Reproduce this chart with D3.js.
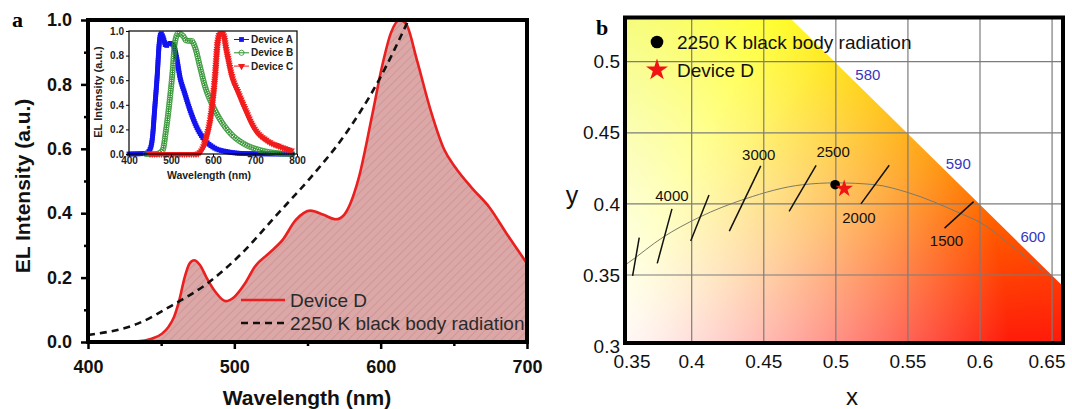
<!DOCTYPE html>
<html>
<head>
<meta charset="utf-8">
<script src="https://cdn.jsdelivr.net/npm/d3@7"></script>
<style>
  body { margin: 0; background: #fff; }
  svg { display: block; font-family: "Liberation Sans", Arial, sans-serif; }
</style>
</head>
<body>
<svg id="fig" width="1072" height="409"></svg>
<script>
// ---------- panel a: EL spectra ----------
const devDWl  = [400, 434, 443.5, 450.6, 455, 458.8, 462.4, 466, 469.4, 472.5, 476.5, 481, 487, 494, 500, 507, 514, 523.5, 533, 542, 552, 561, 569.4, 575, 584.7, 594, 601, 607, 613, 617.6, 624.7, 634, 643.5, 650.6, 662.4, 674, 686, 700];
const devDInt = [0, 0.002, 0.01, 0.026, 0.047, 0.078, 0.13, 0.2, 0.244, 0.254, 0.239, 0.2, 0.156, 0.127, 0.14, 0.18, 0.234, 0.275, 0.317, 0.379, 0.408, 0.395, 0.381, 0.395, 0.504, 0.7, 0.857, 0.96, 1.0, 0.986, 0.877, 0.722, 0.597, 0.545, 0.478, 0.42, 0.337, 0.244];

const bbWl  = [400, 434, 457.6, 481, 505, 528, 552, 575, 599, 619];
const bbInt = [0.022, 0.057, 0.114, 0.18, 0.275, 0.39, 0.51, 0.64, 0.815, 1.0];

const aXTicks = [400, 500, 600, 700];
const aXMinor = [450, 550, 650];
const aYTicks = [0, 0.2, 0.4, 0.6, 0.8, 1.0];
const aYMinor = [0.1, 0.3, 0.5, 0.7, 0.9];
const aLegend = ["Device D", "2250 K black body radiation"];

// inset: devices A, B, C
const devAWl  = [400, 441, 449, 456, 461, 467, 472, 476, 481, 488, 496, 505, 513, 521, 533, 545, 561, 577, 601, 633, 680, 790];
const devAInt = [0, 0.005, 0.03, 0.14, 0.36, 0.63, 0.9, 0.98, 0.95, 0.88, 0.9, 0.89, 0.79, 0.63, 0.49, 0.36, 0.22, 0.127, 0.054, 0.019, 0.003, 0];
const devBWl  = [440, 465, 480, 488, 496, 504, 509, 517, 529, 537, 549, 557, 569, 581, 597, 617, 641, 672, 712, 760, 790];
const devBInt = [0, 0, 0.03, 0.19, 0.41, 0.68, 0.9, 0.98, 0.96, 0.92, 0.92, 0.87, 0.71, 0.55, 0.41, 0.28, 0.17, 0.086, 0.032, 0.005, 0];
const devCWl  = [450, 561, 573, 585, 597, 605, 611, 617, 623, 633, 645, 661, 677, 696, 728, 760, 788];
const devCInt = [0, 0, 0.03, 0.14, 0.36, 0.63, 0.9, 0.98, 0.98, 0.82, 0.63, 0.49, 0.36, 0.22, 0.11, 0.06, 0.027];
const insNames = ["Device A", "Device B", "Device C"];
const insXTicks = [400, 500, 600, 700, 800];
const insYTicks = [0, 0.2, 0.4, 0.6, 0.8, 1.0];

// ---------- panel b: CIE 1931 chromaticity ----------
const locNm = [570, 575, 580, 590, 600, 610, 620];
const locX  = [0.4441, 0.4788, 0.5125, 0.5752, 0.6270, 0.6658, 0.6915];
const locY  = [0.5547, 0.5202, 0.4866, 0.4242, 0.3725, 0.3340, 0.3083];
const locLabelled = [580, 590, 600];

const plX = [0.35, 0.356, 0.38, 0.405, 0.437, 0.477, 0.50, 0.527, 0.55, 0.586, 0.60, 0.625, 0.649];
const plY = [0.3545, 0.3586, 0.3765, 0.3905, 0.4035, 0.4135, 0.4148, 0.4135, 0.408, 0.3935, 0.387, 0.368, 0.349];

const isoT  = [4500, 4000, 3500, 3000, 2500, 2000, 1500];
const isoX1 = [0.359, 0.3761, 0.3993, 0.4261, 0.4676, 0.5174, 0.5754];
const isoY1 = [0.3493, 0.3582, 0.3739, 0.3809, 0.3948, 0.4000, 0.3830];
const isoX2 = [0.3636, 0.3863, 0.4120, 0.4479, 0.4863, 0.5370, 0.5956];
const isoY2 = [0.3763, 0.3965, 0.4063, 0.4267, 0.4271, 0.4272, 0.4016];
const isoLabelled = [4000, 3000, 2500, 2000, 1500];

const cieNames = ["2250 K black body radiation", "Device D"];
const cieX = [0.4995, 0.5058];
const cieY = [0.4135, 0.4107];

const bXTicks = [0.35, 0.4, 0.45, 0.5, 0.55, 0.6, 0.65];
const bYTicks = [0.3, 0.35, 0.4, 0.45, 0.5];

const svg = d3.select('#fig');
const defs = svg.append('defs');

// hatch fill for the Device D area
const pat = defs.append('pattern')
  .attr('id', 'hatch')
  .attr('patternUnits', 'userSpaceOnUse')
  .attr('width', 6).attr('height', 6)
  .attr('patternTransform', 'rotate(45)');
pat.append('rect').attr('width', 6).attr('height', 6).attr('fill', '#dba7a7');
pat.append('line').attr('x1', 0).attr('y1', 0).attr('x2', 0).attr('y2', 6)
  .attr('stroke', '#c98c8c').attr('stroke-width', 1.2);

// ================= panel a =================
const xA = d3.scaleLinear().domain([400, 700]).range([88, 527]);
const yA = d3.scaleLinear().domain([0, 1]).range([342, 20]);
const gA = svg.append('g');

const devD = devDWl.map((w, i) => [w, devDInt[i]]);
const bb = bbWl.map((w, i) => [w, bbInt[i]]);

gA.append('path')
  .datum(devD)
  .attr('fill', 'url(#hatch)')
  .attr('d', d3.area().x(d => xA(d[0])).y0(yA(0)).y1(d => yA(d[1])).curve(d3.curveMonotoneX));

gA.append('path')
  .datum(devD)
  .attr('fill', 'none')
  .attr('stroke', '#ea2020')
  .attr('stroke-width', 2.6)
  .attr('d', d3.line().x(d => xA(d[0])).y(d => yA(d[1])).curve(d3.curveMonotoneX));

gA.append('path')
  .datum(bb)
  .attr('fill', 'none')
  .attr('stroke', '#111')
  .attr('stroke-width', 2.6)
  .attr('stroke-dasharray', '7,5')
  .attr('d', d3.line().x(d => xA(d[0])).y(d => yA(d[1])).curve(d3.curveMonotoneX));

// axes
function styleAxis(g, size, weight) {
  g.select('.domain').remove();
  g.selectAll('.tick line').attr('stroke', '#000').attr('stroke-width', 2.5);
  g.selectAll('.tick text')
    .attr('fill', '#111')
    .style('font-size', size + 'px')
    .style('font-weight', weight)
    .style('font-family', '"Liberation Sans", Arial, sans-serif');
}

gA.append('g').attr('transform', 'translate(88,0)')
  .call(d3.axisLeft(yA).tickValues(aYTicks).tickFormat(d3.format('.1f')).tickSizeInner(7).tickSizeOuter(0).tickPadding(9))
  .call(g => styleAxis(g, 18, 'bold'));
gA.append('g').attr('transform', 'translate(88,0)')
  .call(d3.axisLeft(yA).tickValues(aYMinor).tickFormat('').tickSizeInner(4).tickSizeOuter(0))
  .call(g => styleAxis(g, 18, 'bold'));
gA.append('g').attr('transform', 'translate(0,342)')
  .call(d3.axisBottom(xA).tickValues(aXTicks).tickFormat(d3.format('d')).tickSizeInner(7).tickSizeOuter(0).tickPadding(11))
  .call(g => styleAxis(g, 18, 'bold'));
gA.append('g').attr('transform', 'translate(0,342)')
  .call(d3.axisBottom(xA).tickValues(aXMinor).tickFormat('').tickSizeInner(4).tickSizeOuter(0))
  .call(g => styleAxis(g, 18, 'bold'));

gA.append('rect')
  .attr('x', 88).attr('y', 20).attr('width', 527 - 88).attr('height', 342 - 20)
  .attr('fill', 'none').attr('stroke', '#000').attr('stroke-width', 4);

gA.append('text')
  .attr('x', 307).attr('y', 405)
  .attr('text-anchor', 'middle')
  .style('font-size', '21px').style('font-weight', 'bold')
  .attr('fill', '#111')
  .text('Wavelength (nm)');
gA.append('text')
  .attr('transform', 'translate(30,186) rotate(-90)')
  .attr('text-anchor', 'middle')
  .style('font-size', '21px').style('font-weight', 'bold')
  .attr('fill', '#111')
  .text('EL Intensity (a.u.)');
gA.append('text')
  .attr('x', 12).attr('y', 27)
  .style('font-family', '"Liberation Serif", "Times New Roman", serif')
  .style('font-size', '22px').style('font-weight', 'bold')
  .text('a');

// legend a
const legA = gA.append('g');
legA.append('line').attr('x1', 241).attr('x2', 285).attr('y1', 300).attr('y2', 300)
  .attr('stroke', '#ea2020').attr('stroke-width', 2.6);
legA.append('line').attr('x1', 241).attr('x2', 285).attr('y1', 323).attr('y2', 323)
  .attr('stroke', '#111').attr('stroke-width', 2.6).attr('stroke-dasharray', '7,5');
legA.selectAll('text.leg')
  .data(aLegend)
  .enter().append('text')
  .attr('class', 'leg')
  .attr('x', 290)
  .attr('y', (d, i) => 300 + i * 23)
  .attr('dy', '0.35em')
  .attr('fill', '#2a2a2a')
  .style('font-size', '19px')
  .text(d => d);

// ---------- inset ----------
const xI = d3.scaleLinear().domain([400, 800]).range([129, 297]);
const yI = d3.scaleLinear().domain([0, 1]).range([154, 31]);
const gI = svg.append('g');
gI.append('rect').attr('x', 129).attr('y', 31).attr('width', 168).attr('height', 123).attr('fill', '#fff');

const insSeries = [
  { name: insNames[0], color: '#1414f0', kind: 'square', pts: devAWl.map((w, i) => [w, devAInt[i]]) },
  { name: insNames[1], color: '#2a8f2a', kind: 'circle', pts: devBWl.map((w, i) => [w, devBInt[i]]) },
  { name: insNames[2], color: '#f21c1c', kind: 'triangle', pts: devCWl.map((w, i) => [w, devCInt[i]]) }
];

const triDown = d3.symbol().type(d3.symbolTriangle).size(22);
function drawMarker(g, kind, color, x, y) {
  if (kind === 'square') {
    g.append('rect').attr('x', x - 2.4).attr('y', y - 2.4).attr('width', 4.8).attr('height', 4.8).attr('fill', color);
  } else if (kind === 'circle') {
    g.append('circle').attr('cx', x).attr('cy', y).attr('r', 2.6)
      .attr('fill', 'none').attr('stroke', color).attr('stroke-width', 0.8);
  } else {
    g.append('path').attr('d', triDown).attr('transform', `translate(${x},${y}) rotate(180)`).attr('fill', color);
  }
}

const insLine = d3.line().x(d => xI(d[0])).y(d => yI(d[1])).curve(d3.curveMonotoneX);
insSeries.forEach(s => {
  const p = gI.append('path').datum(s.pts)
    .attr('fill', 'none').attr('stroke', s.color).attr('stroke-width', 1)
    .attr('d', insLine);
  const node = p.node();
  const L = node.getTotalLength();
  const mg = gI.append('g');
  for (let t = 0; t <= L; t += 2.3) {
    const q = node.getPointAtLength(t);
    drawMarker(mg, s.kind, s.color, q.x, q.y);
  }
});

function styleInsAxis(g) {
  g.select('.domain').remove();
  g.selectAll('.tick line').attr('stroke', '#000').attr('stroke-width', 1);
  g.selectAll('.tick text').attr('fill', '#222')
    .style('font-size', '10px').style('font-weight', 'bold')
    .style('font-family', '"Liberation Sans", Arial, sans-serif');
}
gI.append('g').attr('transform', 'translate(129,0)')
  .call(d3.axisLeft(yI).tickValues(insYTicks).tickFormat(d3.format('.1f')).tickSizeInner(3).tickSizeOuter(0).tickPadding(2))
  .call(styleInsAxis);
gI.append('g').attr('transform', 'translate(0,154)')
  .call(d3.axisBottom(xI).tickValues(insXTicks).tickFormat(d3.format('d')).tickSizeInner(3).tickSizeOuter(0).tickPadding(0))
  .call(styleInsAxis);
gI.append('rect').attr('x', 129).attr('y', 31).attr('width', 168).attr('height', 123)
  .attr('fill', 'none').attr('stroke', '#000').attr('stroke-width', 1.2);
gI.append('text').attr('x', 209).attr('y', 179).attr('text-anchor', 'middle')
  .style('font-size', '10.5px').style('font-weight', 'bold').attr('fill', '#222')
  .text('Wavelength (nm)');
gI.append('text').attr('transform', 'translate(102,92) rotate(-90)').attr('text-anchor', 'middle')
  .style('font-size', '11px').style('font-weight', 'bold').attr('fill', '#222')
  .text('EL Intensity (a.u.)');

insSeries.forEach((s, i) => {
  const y = 39.5 + i * 13.3;
  gI.append('line').attr('x1', 234).attr('x2', 249).attr('y1', y).attr('y2', y)
    .attr('stroke', s.color).attr('stroke-width', 1);
  drawMarker(gI, s.kind, s.color, 241.5, y);
  gI.append('text').attr('x', 251).attr('y', y).attr('dy', '0.35em')
    .style('font-size', '10px').style('font-weight', 'bold').attr('fill', '#222')
    .text(s.name);
});

// ================= panel b =================
const xB = d3.scaleLinear().domain([0.4, 0.6]).range([691.7, 980]);
const yB = d3.scaleLinear().domain([0.35, 0.5]).range([275, 61.7]);
const bL = 625, bR = 1063, bT = 17.5, bB = 343;
const gB = svg.append('g');

defs.append('clipPath').attr('id', 'frameB')
  .append('rect').attr('x', bL).attr('y', bT).attr('width', bR - bL).attr('height', bB - bT);

const locPts = locX.map((x, i) => [xB(x), yB(locY[i])]);
const clipPoly = [[xB(0.3), yB(0.6)], ...locPts, [xB(0.72), yB(0.25)], [xB(0.3), yB(0.25)]];
defs.append('clipPath').attr('id', 'locusB')
  .append('path').attr('d', 'M' + clipPoly.map(p => p.join(',')).join('L') + 'Z');

// colour field
const hueStops = [[-30, [255, 0, 80]], [0, [255, 25, 10]], [15, [255, 85, 0]], [28, [255, 145, 0]],
                  [40, [255, 190, 0]], [52, [255, 232, 0]], [62, [255, 255, 0]], [78, [245, 252, 30]], [100, [225, 245, 60]]];
function hueAt(t) {
  if (t <= hueStops[0][0]) return hueStops[0][1];
  for (let k = 1; k < hueStops.length; k++) {
    if (t <= hueStops[k][0]) {
      const a = hueStops[k - 1], b = hueStops[k];
      const f = (t - a[0]) / (b[0] - a[0]);
      return a[1].map((c, j) => c + (b[1][j] - c) * f);
    }
  }
  return hueStops[hueStops.length - 1][1];
}
function cieColor(x, y) {
  const dx = x - 0.33, dy = y - 0.30;
  const d = Math.hypot(dx, dy);
  const t = Math.atan2(dy, dx) * 180 / Math.PI;
  const dref = t < 50 ? 0.29 : 0.29 + (Math.min(t, 95) - 50) / 45 * 0.07;
  const s = Math.pow(Math.min(1, d / dref), 1.35);
  return hueAt(t).map(c => 255 + (c - 255) * s);
}
const cw = Math.ceil(bR - bL), ch = Math.ceil(bB - bT);
const cv = document.createElement('canvas');
cv.width = cw; cv.height = ch;
const ctx = cv.getContext('2d');
const img = ctx.createImageData(cw, ch);
for (let j = 0; j < ch; j++) {
  for (let i = 0; i < cw; i++) {
    const c = cieColor(xB.invert(bL + i + 0.5), yB.invert(bT + j + 0.5));
    const o = (j * cw + i) * 4;
    img.data[o] = c[0]; img.data[o + 1] = c[1]; img.data[o + 2] = c[2]; img.data[o + 3] = 255;
  }
}
ctx.putImageData(img, 0, 0);

const field = gB.append('g').attr('clip-path', 'url(#frameB)');
field.append('rect').attr('x', bL).attr('y', bT).attr('width', bR - bL).attr('height', bB - bT).attr('fill', '#fff');
field.append('image')
  .attr('href', cv.toDataURL())
  .attr('x', bL).attr('y', bT).attr('width', cw).attr('height', ch)
  .attr('preserveAspectRatio', 'none')
  .attr('clip-path', 'url(#locusB)');

// grid
field.selectAll('line.vg').data(bXTicks.slice(1)).enter().append('line')
  .attr('x1', d => xB(d)).attr('x2', d => xB(d)).attr('y1', bT).attr('y2', bB)
  .attr('stroke', '#7c7c7c').attr('stroke-width', 1.2);
field.selectAll('line.hg').data(bYTicks.slice(1)).enter().append('line')
  .attr('y1', d => yB(d)).attr('y2', d => yB(d)).attr('x1', bL).attr('x2', bR)
  .attr('stroke', '#7c7c7c').attr('stroke-width', 1.2);

// Planckian locus
field.append('path')
  .datum(plX.map((x, i) => [x, plY[i]]))
  .attr('fill', 'none').attr('stroke', '#7a7a6a').attr('stroke-width', 1)
  .attr('d', d3.line().x(d => xB(d[0])).y(d => yB(d[1])).curve(d3.curveMonotoneX));

// isotherm ticks
isoT.forEach((T, i) => {
  field.append('line')
    .attr('x1', xB(isoX1[i])).attr('y1', yB(isoY1[i]))
    .attr('x2', xB(isoX2[i])).attr('y2', yB(isoY2[i]))
    .attr('stroke', '#111').attr('stroke-width', 1.5);
});
const isoLabelOffset = { 4000: [0, -13, 'top'], 3000: [-2, -11, 'top'], 2500: [17, -14, 'top'], 2000: [-2, 14, 'bottom'], 1500: [2, 13, 'bottom'] };
isoT.forEach((T, i) => {
  if (!isoLabelled.includes(T)) return;
  const o = isoLabelOffset[T];
  const px = o[2] === 'top' ? xB(isoX2[i]) : xB(isoX1[i]);
  const py = o[2] === 'top' ? yB(isoY2[i]) : yB(isoY1[i]);
  field.append('text')
    .attr('x', px + o[0]).attr('y', py + o[1]).attr('dy', '0.35em')
    .attr('text-anchor', 'middle')
    .attr('fill', '#111')
    .style('font-size', '15px')
    .text(T);
});

// spectral locus wavelength labels
locNm.forEach((nm, i) => {
  if (!locLabelled.includes(nm)) return;
  field.append('text')
    .attr('x', xB(locX[i]) + 14).attr('y', yB(locY[i]) - 6).attr('dy', '0.35em')
    .attr('text-anchor', 'middle')
    .attr('fill', '#3636c0')
    .style('font-size', '15px')
    .text(nm);
});

// points
const star = d3.symbol().type(d3.symbolStar);
gB.append('circle').attr('cx', xB(cieX[0])).attr('cy', yB(cieY[0])).attr('r', 4.8).attr('fill', '#000');
gB.append('path').attr('d', star.size(95)()).attr('transform', `translate(${xB(cieX[1])},${yB(cieY[1])})`).attr('fill', '#f01414');

// legend b
gB.append('circle').attr('cx', 657).attr('cy', 42).attr('r', 6.3).attr('fill', '#000');
gB.append('path').attr('d', star.size(150)()).attr('transform', 'translate(657,70)').attr('fill', '#f01414');
cieNames.forEach((n, i) => {
  gB.append('text').attr('x', 677).attr('y', 42 + i * 28).attr('dy', '0.35em')
    .attr('fill', '#111').style('font-size', '19px').text(n);
});

// frame & axis labels
gB.append('rect').attr('x', bL).attr('y', bT).attr('width', bR - bL).attr('height', bB - bT)
  .attr('fill', 'none').attr('stroke', '#000').attr('stroke-width', 4);

gB.selectAll('text.xt').data(bXTicks).enter().append('text')
  .attr('x', d => Math.min(1047, Math.max(632, xB(d))))
  .attr('y', 361).attr('dy', '0.35em')
  .attr('text-anchor', 'middle')
  .attr('fill', '#111').style('font-size', '19px')
  .text(d => String(+d.toFixed(2)));
gB.selectAll('text.yt').data(bYTicks).enter().append('text')
  .attr('x', 620)
  .attr('y', d => Math.min(346, yB(d)))
  .attr('dy', '0.35em')
  .attr('text-anchor', 'end')
  .attr('fill', '#111').style('font-size', '19px')
  .text(d => String(+d.toFixed(2)));

gB.append('text').attr('x', 852).attr('y', 405).attr('text-anchor', 'middle')
  .attr('fill', '#111').style('font-size', '24px').text('x');
gB.append('text').attr('x', 572).attr('y', 204).attr('text-anchor', 'middle')
  .attr('fill', '#111').style('font-size', '25px').text('y');
gB.append('text').attr('x', 596).attr('y', 35)
  .style('font-family', '"Liberation Serif", "Times New Roman", serif')
  .style('font-size', '22px').style('font-weight', 'bold')
  .text('b');
</script>
</body>
</html>
